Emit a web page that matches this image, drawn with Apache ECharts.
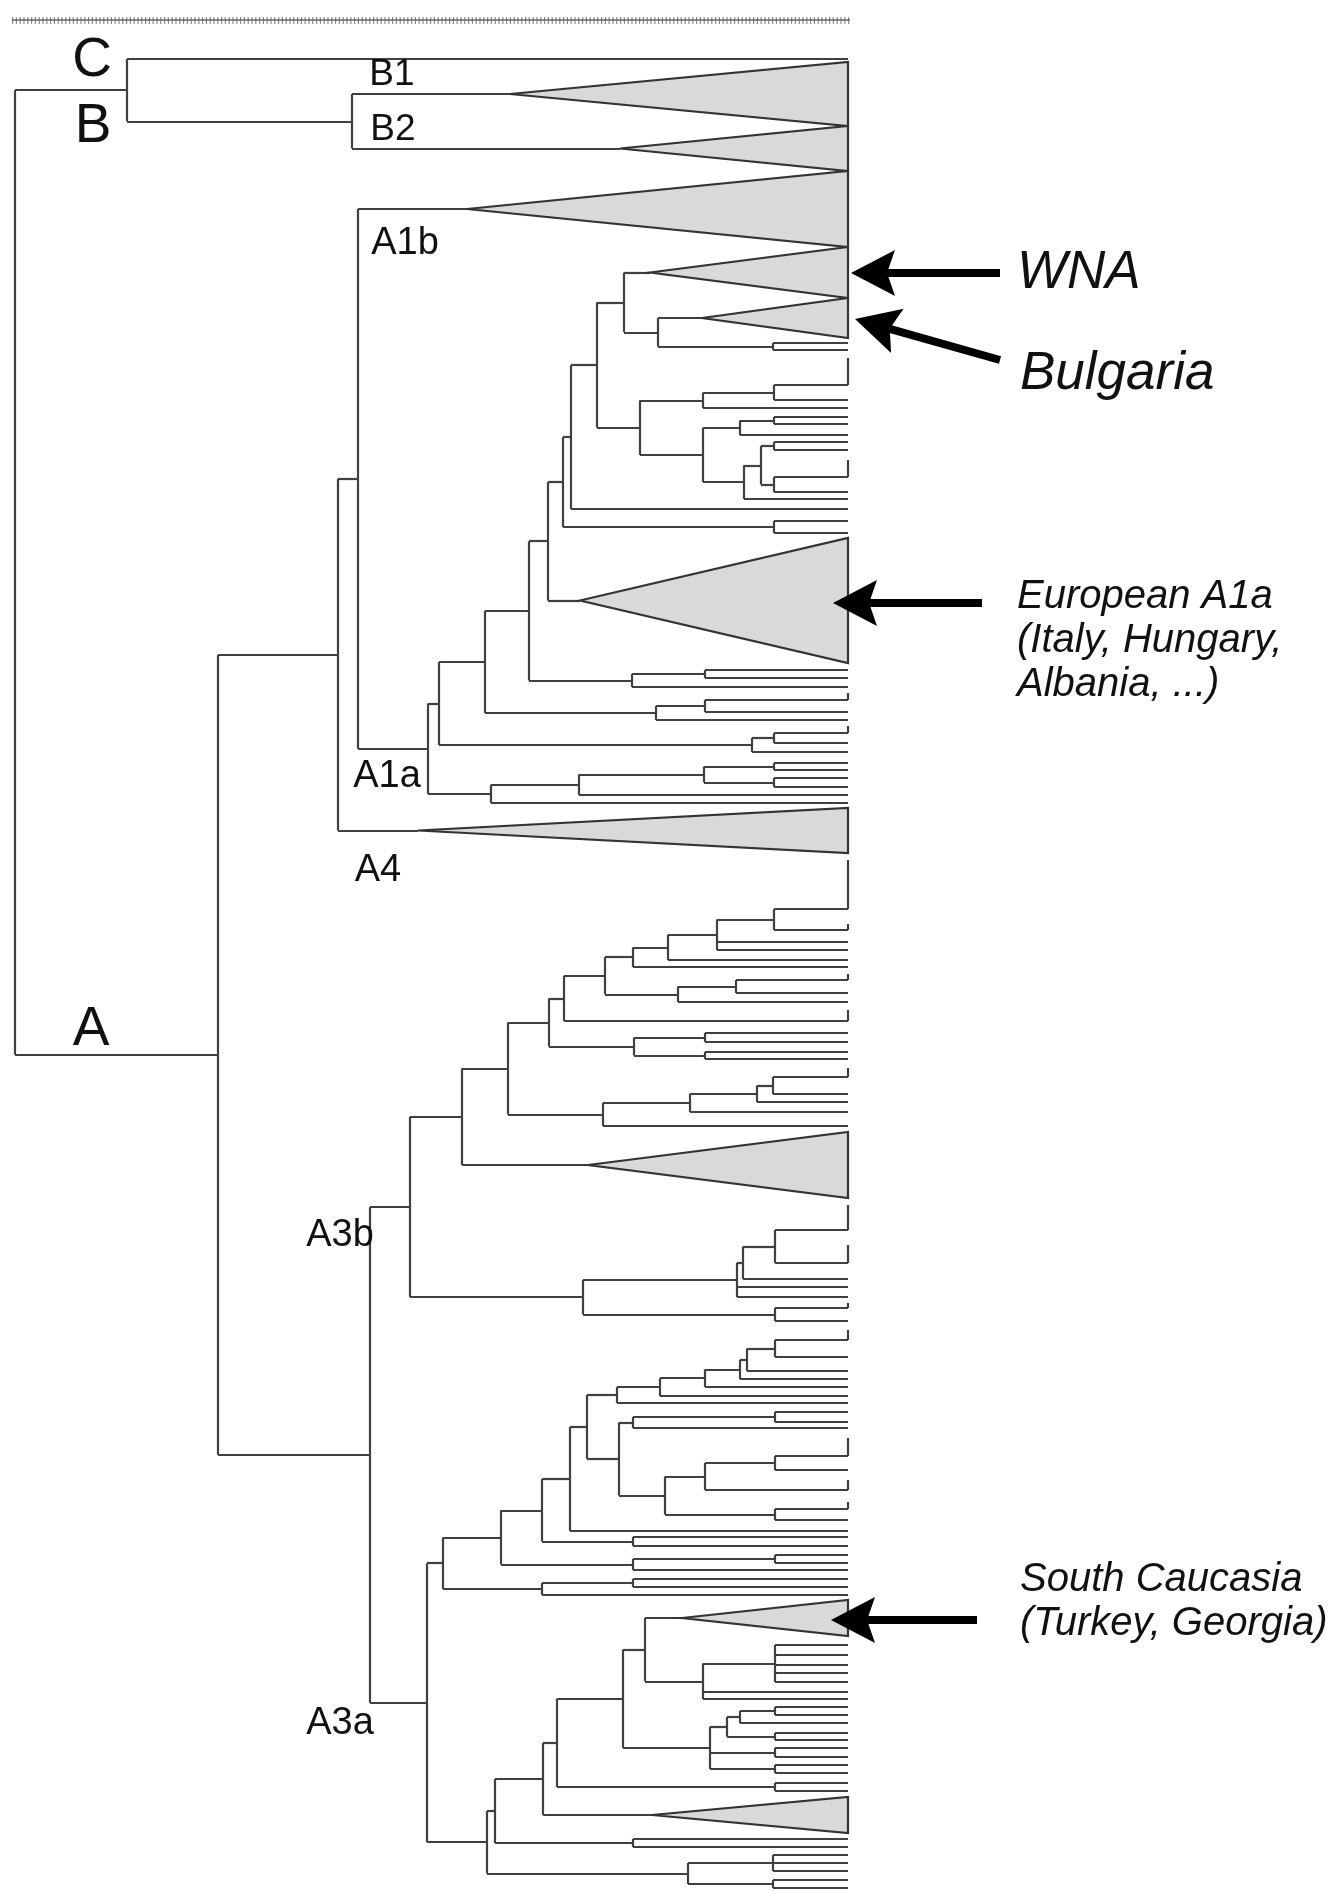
<!DOCTYPE html>
<html>
<head>
<meta charset="utf-8">
<script src="https://cdn.jsdelivr.net/npm/echarts@6/dist/echarts.min.js"></script>
<style>
  html, body { margin: 0; padding: 0; background: #fff; }
  #main { width: 1340px; height: 1891px; }
</style>
</head>
<body>
<div id="main"></div>
<script>
// tree. x = branch depth, y = position along the tip column
// node = [depthOfSplit, ...children], tip = its y, bar tip = ['b', yTop, y], collapsed clade = ['T', apexDepth, yTop, yBottom]
const tipDepth = 848;

const cladeB = [352, ['T', 510, 62, 126], ['T', 620, 126, 171]];

const wnaBulgaria = [624, ['T', 650, 247, 298], [658, ['T', 702, 298, 338], [773, 343, 350]]];
const a1aSmall = [640,
  [703, [774, ['b', 358, 385], 400], 408],
  [703, [740, [774, 417, 424], 435],
        [744, [761, [774, 442, 450], [774, ['b', 460, 477], 492]], 499]]];
const a1aUpper = [529,
  [548, [563, [571, [597, wnaBulgaria, a1aSmall], 509], [774, 521, 533]], ['T', 580, 538, 663]],
  [632, [705, 670, 678], 687]];
const cladeA1a = [428,
  [439, [485, a1aUpper, [656, [705, ['b', 693, 700], 712], 720]],
        [752, [774, ['b', 726, 733], 743], 752]],
  [491, [579, [704, [774, 763, 770], [774, 778, 787]], 795], 803]];

const a3bTop = [549,
  [564, [605, [633, [668, [717, [774, ['b', 860, 909], ['b', 924, 930]], 942, 950], 960], 967],
              [678, [736, ['b', 974, 980], 993], 1002]],
        ['b', 1010, 1021]],
  [634, [705, 1033, 1042], [705, 1052, 1059]]];
const cladeA3b = [410,
  [462, [508, a3bTop, [603, [690, [757, [773, ['b', 1068, 1077], 1094], 1102], 1112], 1126]],
        ['T', 588, 1132, 1198]],
  [583, [737, [743, [775, ['b', 1205, 1230], ['b', 1245, 1263]], 1279], 1287, 1297],
        [775, ['b', 1303, 1308], 1321]]];

const a3aTop = [587,
  [617, [660, [705, [740, [747, [775, ['b', 1330, 1340], 1357], 1371], 1379], 1387], 1396], 1403],
  [619, [633, [775, 1412, 1422], 1428],
        [665, [705, [775, ['b', 1438, 1456], 1470], ['b', 1480, 1490]], [775, ['b', 1502, 1509], 1520]]]];
const caucasia = [623,
  [645, ['T', 682, 1600, 1636], [703, [775, 1645, 1655, 1665, 1673, 1682], 1692, 1699]],
  [710, [727, [740, [775, 1707, 1715], 1723], [775, 1733, 1740]], [775, 1748, 1757], [775, 1765, 1773]]];
const cladeA3a = [427,
  [443, [501, [542, [570, a3aTop, 1531], [633, 1537, 1546]], [633, [775, 1555, 1563], 1570]],
        [542, [633, 1579, 1587], 1595]],
  [487, [495, [543, [557, caucasia, [775, 1783, 1791]], ['T', 652, 1797, 1833]], [633, 1839, 1847]],
        [688, [773, 1855, 1863, 1871], [773, 1880, 1888]]]];

const tree = [15,
  [127, 59, cladeB],
  [218, [338, [358, ['T', 467, 171, 247], cladeA1a], ['T', 418, 808, 853]],
        [370, cladeA3b, cladeA3a]]];

// clade labels
const cladeNames = ['C', 'B', 'A', 'B1', 'B2', 'A1b', 'A1a', 'A4', 'A3b', 'A3a'];
const cladeNameX = [92, 93, 91, 392, 393, 405, 387, 378, 340, 340];
const cladeNameY = [61, 127, 1030, 75, 130, 244, 777, 871, 1236, 1724];
const cladeNameSize = [55, 55, 55, 37, 37, 38, 38, 38, 38, 38];

// side notes and their arrows
const noteLines = [['WNA'], ['Bulgaria'], ['European A1a', '(Italy, Hungary,', 'Albania, ...)'], ['South Caucasia', '(Turkey, Georgia)']];
const noteX = [1017, 1020, 1017, 1020];
const noteY = [273, 374, 597, 1580];
const noteSize = [53, 53, 40, 40];
const arrowFrom = [[1000, 273], [1000, 360], [982, 603], [977, 1620]];
const arrowTo = [[851, 273], [855, 319], [833, 603], [831, 1620]];

// walk the tree into segments and triangles
const segs = [], tris = [];
function lay(n, px) {
  if (typeof n === 'number') { segs.push([px, n, tipDepth, n]); return n; }
  if (n[0] === 'b') {
    segs.push([px, n[2], tipDepth, n[2]]);
    segs.push([tipDepth, n[1], tipDepth, n[2]]);
    return n[2];
  }
  if (n[0] === 'T') {
    const y = (n[2] + n[3]) / 2;
    segs.push([px, y, n[1], y]);
    tris.push([n[1], y, n[2], n[3]]);
    return y;
  }
  const x = n[0];
  const ys = n.slice(1).map(c => lay(c, x));
  const y = (ys[0] + ys[ys.length - 1]) / 2;
  segs.push([x, ys[0], x, ys[ys.length - 1]]);
  if (px != null) segs.push([px, y, x, y]);
  return y;
}
lay(tree, null);

const labels = [];
cladeNames.forEach((t, i) => labels.push([cladeNameX[i], cladeNameY[i], t, cladeNameSize[i], 'normal', 'center']));
noteLines.forEach((ls, i) => ls.forEach((t, j) => {
  const lh = noteSize[i] > 45 ? 58 : 44;
  labels.push([noteX[i], noteY[i] + j * lh, t, noteSize[i], 'italic', 'left']);
}));

const font = 'Liberation Sans, Arial, sans-serif';
const chart = echarts.init(document.getElementById('main'));
chart.setOption({
  animation: false,
  grid: { left: 0, top: 0, width: 1340, height: 1891 },
  xAxis: { type: 'value', min: 0, max: 1340, show: false },
  yAxis: { type: 'value', min: 0, max: 1891, inverse: true, show: false },
  series: [
    {
      // scale strip at the top
      type: 'lines', coordinateSystem: 'cartesian2d', silent: true,
      lineStyle: { color: '#8a8a8a', width: 7, type: [1.2, 2.6], opacity: 1 },
      data: [{ coords: [[12, 20], [850, 20]] }]
    },
    {
      type: 'lines', coordinateSystem: 'cartesian2d', silent: true,
      lineStyle: { color: '#666', width: 1.5, opacity: 1 },
      data: [{ coords: [[12, 20], [850, 20]] }]
    },
    {
      type: 'lines', coordinateSystem: 'cartesian2d', silent: true,
      lineStyle: { color: '#404040', width: 2.2, opacity: 1 },
      data: segs.map(s => ({ coords: [[s[0], s[1]], [s[2], s[3]]] }))
    },
    {
      type: 'custom', coordinateSystem: 'cartesian2d', silent: true, clip: false,
      data: tris,
      renderItem: (params, api) => {
        const a = api.coord([api.value(0), api.value(1)]);
        const t = api.coord([tipDepth, api.value(2)]);
        const b = api.coord([tipDepth, api.value(3)]);
        return {
          type: 'polygon',
          shape: { points: [a, t, b] },
          style: { fill: '#d9d9d9', stroke: '#333', lineWidth: 2.2 }
        };
      }
    },
    {
      // pointer arrows: shaft plus a solid head whose tip sits on the clade
      type: 'custom', coordinateSystem: 'cartesian2d', silent: true, clip: false,
      data: arrowFrom.map((f, i) => [f[0], f[1], arrowTo[i][0], arrowTo[i][1]]),
      renderItem: (params, api) => {
        const f = api.coord([api.value(0), api.value(1)]);
        const t = api.coord([api.value(2), api.value(3)]);
        const len = Math.hypot(f[0] - t[0], f[1] - t[1]);
        const d = [(f[0] - t[0]) / len, (f[1] - t[1]) / len];
        const nrm = [-d[1], d[0]];
        const L = 44, W = 23;
        const base = [t[0] + d[0] * L, t[1] + d[1] * L];
        const notch = [t[0] + d[0] * L * 0.82, t[1] + d[1] * L * 0.82];
        return {
          type: 'group',
          children: [
            { type: 'line', shape: { x1: f[0], y1: f[1], x2: notch[0], y2: notch[1] },
              style: { stroke: '#000', lineWidth: 8 } },
            { type: 'polygon',
              shape: { points: [t, [base[0] + nrm[0] * W, base[1] + nrm[1] * W], notch,
                                [base[0] - nrm[0] * W, base[1] - nrm[1] * W]] },
              style: { fill: '#000' } }
          ]
        };
      }
    },
    {
      type: 'custom', coordinateSystem: 'cartesian2d', silent: true, clip: false,
      data: labels.map((l, i) => [l[0], l[1], i]),
      renderItem: (params, api) => {
        const l = labels[params.dataIndex];
        const p = api.coord([l[0], l[1]]);
        return {
          type: 'text', x: p[0], y: p[1],
          style: {
            text: l[2], fill: '#111', font: l[4] + ' ' + l[3] + 'px ' + font,
            align: l[5], verticalAlign: 'middle'
          }
        };
      }
    }
  ]
});
</script>
</body>
</html>
